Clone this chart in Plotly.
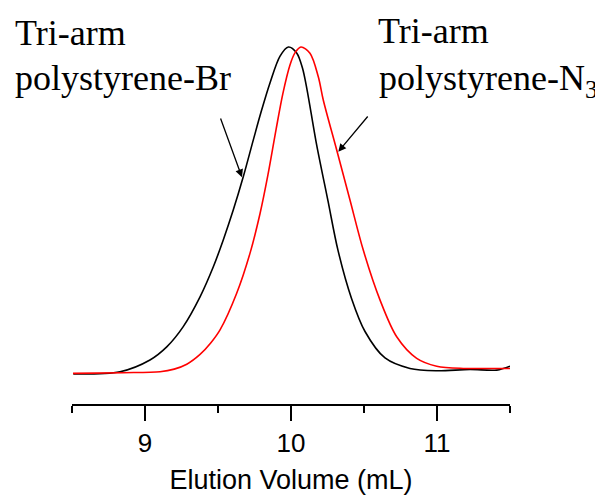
import plotly.graph_objects as go

# Elution volume (mL) and normalized detector response
br_volume = [8.509, 8.829, 9.034, 9.149, 9.262, 9.377, 9.468, 9.536, 9.605, 9.673, 9.742, 9.795,
             9.856, 9.925, 9.982, 10.039, 10.079, 10.110, 10.137, 10.176, 10.253, 10.322, 10.414,
             10.507, 10.644, 10.815, 10.998, 11.226, 11.409, 11.5]
br_signal = [0.0, 0.007, 0.043, 0.083, 0.145, 0.236, 0.328, 0.410, 0.502, 0.603, 0.716, 0.801,
             0.890, 0.972, 1.0, 0.982, 0.935, 0.869, 0.800, 0.700, 0.530, 0.378, 0.232,
             0.130, 0.049, 0.017, 0.010, 0.014, 0.012, 0.024]

n3_volume = [8.507, 8.85, 9.103, 9.20, 9.286, 9.377, 9.45, 9.514, 9.628, 9.719, 9.788, 9.842,
             9.897, 9.945, 9.993, 10.027, 10.068, 10.130, 10.187, 10.221, 10.313, 10.404,
             10.495, 10.610, 10.724, 10.861, 10.998, 11.180, 11.340, 11.5]
n3_signal = [0.002, 0.004, 0.007, 0.015, 0.030, 0.060, 0.095, 0.135, 0.247, 0.369, 0.491, 0.609,
             0.746, 0.859, 0.945, 0.982, 1.0, 0.981, 0.909, 0.838, 0.685, 0.532,
             0.379, 0.226, 0.114, 0.048, 0.024, 0.017, 0.017, 0.017]

x_ticks = [9, 10, 11]
x_minor_ticks = [8.5, 9.5, 10.5, 11.5]
x_label = "Elution Volume (mL)"
label_br = ["Tri-arm", "polystyrene-Br"]
label_n3 = ["Tri-arm", "polystyrene-N<sub>3</sub>"]

fig = go.Figure()
fig.add_trace(go.Scatter(x=br_volume, y=br_signal, mode="lines",
                         line=dict(color="black", width=1.6, shape="spline", smoothing=0.9),
                         showlegend=False))
fig.add_trace(go.Scatter(x=n3_volume, y=n3_signal, mode="lines",
                         line=dict(color="#ff0000", width=1.6, shape="spline", smoothing=0.9),
                         showlegend=False))

serif = "Times New Roman, Liberation Serif, serif"
sans = "Arial, Liberation Sans, sans-serif"
ann_font = dict(family=serif, size=36, color="black")

annotations = [
    dict(xref="paper", yref="paper", x=-0.1347, y=0.992, text=label_br[0], showarrow=False,
         xanchor="left", yanchor="middle", font=ann_font),
    dict(xref="paper", yref="paper", x=-0.1347, y=0.871, text=label_br[1], showarrow=False,
         xanchor="left", yanchor="middle", font=ann_font),
    dict(xref="paper", yref="paper", x=0.694, y=0.997, text=label_n3[0], showarrow=False,
         xanchor="left", yanchor="middle", font=ann_font),
    dict(xref="paper", yref="paper", x=0.697, y=0.864, text=label_n3[1], showarrow=False,
         xanchor="left", yanchor="middle", font=ann_font),
    dict(xref="x", yref="y", x=9.664, y=0.602, axref="x", ayref="y", ax=9.514, ay=0.786,
         text="", showarrow=True, arrowhead=2, arrowsize=1.2, arrowwidth=1.3, arrowcolor="black"),
    dict(xref="x", yref="y", x=10.324, y=0.680, axref="x", ayref="y", ax=10.534, ay=0.792,
         text="", showarrow=True, arrowhead=2, arrowsize=1.2, arrowwidth=1.3, arrowcolor="black"),
]

fig.update_layout(
    width=595, height=487,
    margin=dict(l=64, r=93, t=22, b=91, autoexpand=False),
    paper_bgcolor="white", plot_bgcolor="white",
    annotations=annotations,
    xaxis=dict(range=[8.5, 11.5], tickvals=x_ticks, ticks="outside", ticklen=15, tickwidth=1.5,
               tickcolor="black", showline=True, linecolor="black", linewidth=1.5,
               showgrid=False, zeroline=False, automargin=False,
               minor=dict(tickvals=x_minor_ticks, ticks="outside", ticklen=7,
                          tickwidth=1.5, tickcolor="black", showgrid=False),
               tickfont=dict(family=sans, size=26, color="black"),
               title=dict(text=x_label, standoff=17,
                          font=dict(family=sans, size=27, color="black"))),
    yaxis=dict(range=[-0.0917, 1.052], visible=False, showgrid=False, zeroline=False,
               automargin=False),
)

fig.write_html("out.html")
